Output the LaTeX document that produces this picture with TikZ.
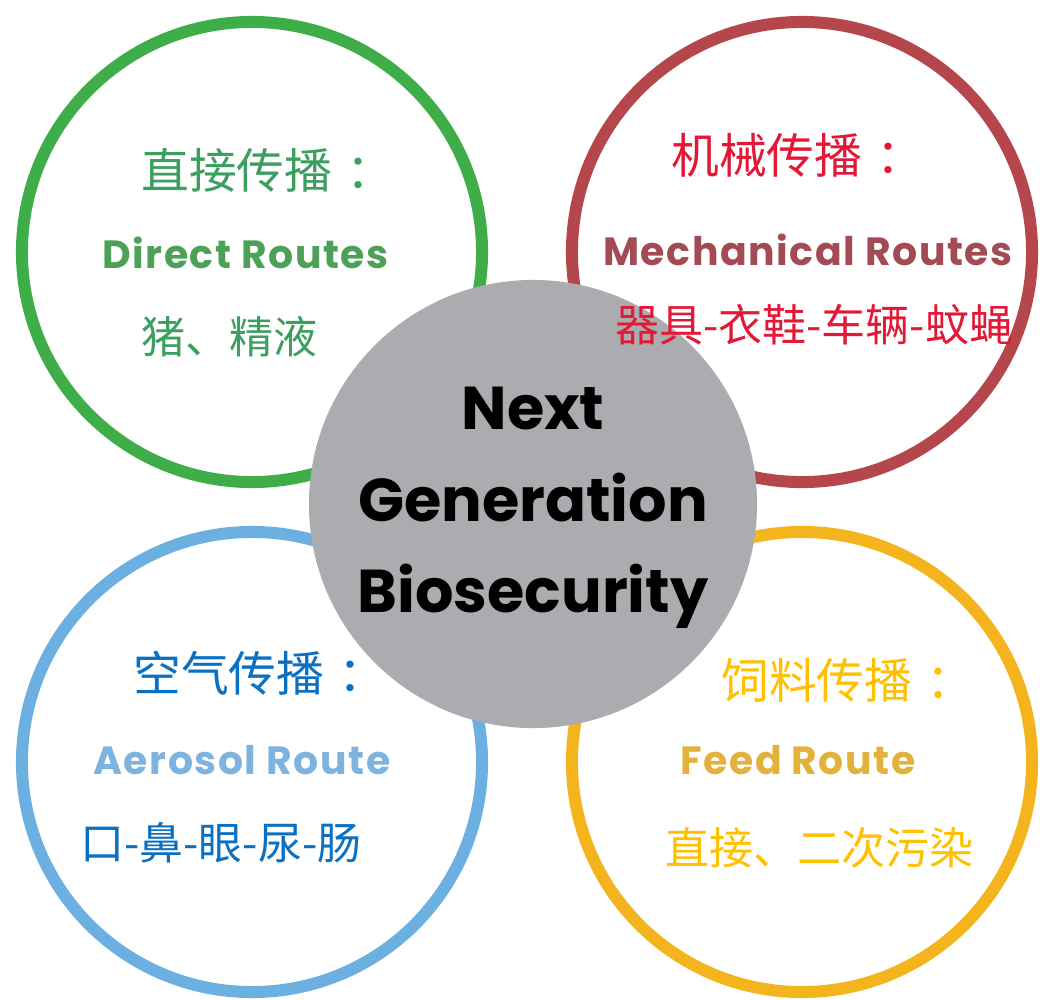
\documentclass[tikz,border=0pt]{standalone}
\usepackage{fontspec}
\usepackage{xcolor}
\newfontfamily\cjk{Noto Sans CJK SC}
\newfontfamily\routefont[LetterSpace=4]{Poppins}
\newfontfamily\hubfont{Poppins}
\newcommand{\cncolon}{\kern0.3em：}
\definecolor{ringgreen}{HTML}{3FAE49}
\definecolor{ringred}{HTML}{B4464C}
\definecolor{ringblue}{HTML}{6CB0E2}
\definecolor{ringyellow}{HTML}{F4B41E}
\definecolor{hubgray}{HTML}{ABACB0}
\definecolor{cngreen}{HTML}{3C9F5F}
\definecolor{engreen}{HTML}{4CA058}
\definecolor{cnred}{HTML}{E31837}
\definecolor{enred}{HTML}{A34B55}
\definecolor{cnblue}{HTML}{0A70C2}
\definecolor{enblue}{HTML}{7DB3DE}
\definecolor{cnyellow}{HTML}{FFC000}
\definecolor{enyellow}{HTML}{E3B23C}
\tikzstyle{ring} = [draw, circle, line width=0.3cm, minimum size=11.5cm, inner sep=0]
\tikzstyle{hub} = [circle, fill=hubgray, minimum size=11.2cm, inner sep=0]
\tikzstyle{cntitle} = [anchor=west, inner sep=0, font=\cjk\fontsize{34}{34}\selectfont]
\tikzstyle{cnitem} = [anchor=west, inner sep=0, font=\cjk\fontsize{31.3}{31.3}\selectfont]
\tikzstyle{route} = [anchor=west, inner sep=0, font=\routefont\bfseries\fontsize{28}{28}\selectfont]
\tikzstyle{hubtext} = [anchor=north, inner sep=0, align=center,
    font=\hubfont\bfseries\fontsize{43}{65}\selectfont]

\begin{document}
\begin{tikzpicture}[x=0.025cm, y=-0.025cm]
    \useasboundingbox[fill=white] (0,0) rectangle (1040,1000);
    \node [ring, ringgreen] (direct) at (252,252) {};
    \node [ring, ringred] (mech) at (802,252) {};
    \node [ring, ringblue] (aero) at (252,762) {};
    \node [ring, ringyellow] (feed) at (802,762) {};
    \node [hub] (nextgen) at (533,504) {};
    \node [hubtext] (nextgentext) at (533,387) {Next\\Generation\\Biosecurity};
    \node [cntitle, cngreen] (directcn) at (141,170) {直接传播\cncolon};
    \node [route, engreen] (directen) at (102,253) {Direct Routes};
    \node [cnitem, cngreen] (directitem) at (141,337) {猪、精液};
    \node [cntitle, cnred] (mechcn) at (671,155) {机械传播\cncolon};
    \node [route, enred] (mechen) at (603,250) {Mechanical Routes};
    \node [cnitem, cnred] (mechitem) at (615,325) {器具-衣鞋-车辆-蚊蝇};
    \node [cntitle, cnblue] (aerocn) at (133,673) {空气传播\cncolon};
    \node [route, enblue] (aeroen) at (93,760) {Aerosol Route};
    \node [cnitem, cnblue] (aeroitem) at (80,843) {口-鼻-眼-尿-肠};
    \node [cntitle, cnyellow] (feedcn) at (721,680) {饲料传播\cncolon};
    \node [route, enyellow] (feeden) at (680,760) {Feed Route};
    \node [cnitem, cnyellow] (feeditem) at (665,848) {直接、二次污染};
\end{tikzpicture}
\end{document}
